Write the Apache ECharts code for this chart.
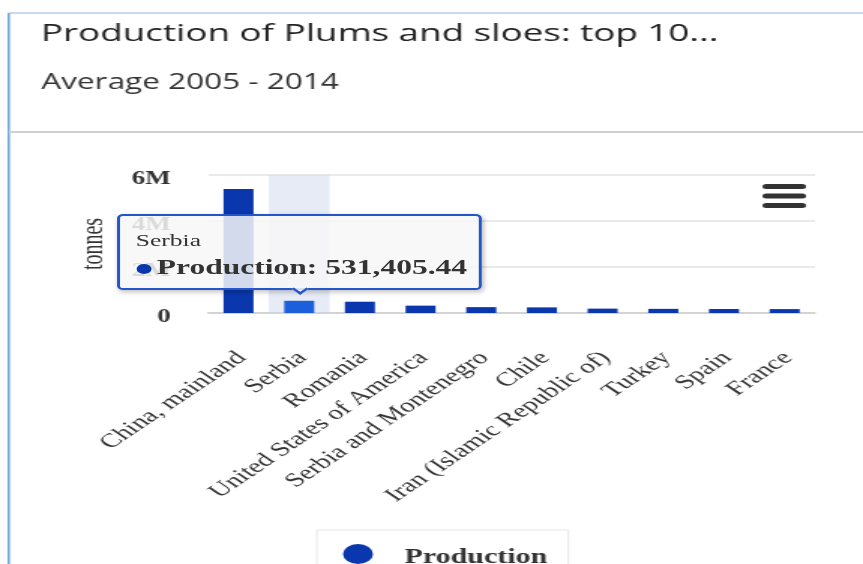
<!DOCTYPE html>
<html>
<head>
<meta charset="utf-8">
<script src="https://cdn.jsdelivr.net/npm/echarts@6/dist/echarts.min.js"></script>
<style>
    html, body { margin: 0; padding: 0; background: #fff; overflow: hidden; }
    /* the reference is stretched sideways, so draw narrow and stretch */
    #chart { width: 575px; height: 564px; transform: scaleX(1.5009); transform-origin: 0 0; }
</style>
</head>
<body>
<div id="chart"></div>
<script>
var categories = ['China, mainland', 'Serbia', 'Romania', 'United States of America',
    'Serbia and Montenegro', 'Chile', 'Iran (Islamic Republic of)', 'Turkey', 'Spain', 'France'];
var production = [5390000, 531405.44, 490000, 320000, 255000, 245000, 190000, 180000, 175000, 170000];
var yTickLabels = ['0', '2M', '4M', '6M'];

var serif = '"Liberation Serif", "Times New Roman", serif';
var barColor = '#0a37ad';

var chart = echarts.init(document.getElementById('chart'));

function fmt(v) {
    return v.toLocaleString('en-US', {minimumFractionDigits: 2, maximumFractionDigits: 2});
}

var option = {
    animation: false,
    title: [
        {
            text: 'Production of Plums and sloes: top 10...',
            left: 22.3, top: 14,
            textStyle: {fontFamily: 'Open Sans', fontSize: 24.5, fontWeight: 'normal', color: '#222', lineHeight: 30}
        },
        {
            text: 'Average 2005 - 2014',
            left: 22.5, top: 65,
            textStyle: {fontFamily: 'Open Sans', fontSize: 21, fontWeight: 'normal', color: '#333', lineHeight: 26}
        }
    ],
    graphic: [
        {type: 'line', shape: {x1: 5.8, y1: 13, x2: 575, y2: 13}, style: {stroke: '#8db4e2', lineWidth: 1}},
        {type: 'line', shape: {x1: 5.8, y1: 13, x2: 5.8, y2: 564}, style: {stroke: '#5b9bd5', lineWidth: 1.4}},
        {type: 'line', shape: {x1: 5.8, y1: 132, x2: 575, y2: 132}, style: {stroke: '#cfcfcf', lineWidth: 2}},
        {type: 'rect', shape: {x: 508, y: 184, width: 29, height: 5, r: 2.5}, style: {fill: '#333'}},
        {type: 'rect', shape: {x: 508, y: 193.5, width: 29, height: 5, r: 2.5}, style: {fill: '#333'}},
        {type: 'rect', shape: {x: 508, y: 203, width: 29, height: 5, r: 2.5}, style: {fill: '#333'}}
    ],
    legend: {
        data: ['Production'],
        left: 211, top: 530,
        padding: [14, 14, 14, 17.5],
        borderColor: '#e6e6e6', borderWidth: 1,
        icon: 'circle',
        itemWidth: 20, itemHeight: 20,
        formatter: '{t|{name}}',
        textStyle: {
            rich: {
                t: {fontFamily: serif, fontSize: 20, fontWeight: 'bold', color: '#333', padding: [7, 0, 0, 16]}
            }
        }
    },
    tooltip: {
        trigger: 'item',
        triggerOn: 'none',
        alwaysShowContent: true,
        position: 'top',
        backgroundColor: 'rgba(247,247,247,0.85)',
        borderColor: '#2356c8',
        borderWidth: 2,
        padding: [12, 8, 8, 10.5],
        extraCssText: 'border-radius:4px;box-shadow:1px 2px 4px rgba(0,0,0,0.25);',
        formatter: function (p) {
            return '<div style="font-family:' + serif.replace(/"/g, "'") + ';color:#333;">' +
                '<div style="font-size:17px;line-height:26px;">' + p.name + '</div>' +
                '<div style="font-size:21px;line-height:26px;white-space:nowrap;font-weight:bold;">' +
                '<span style="display:inline-block;width:10px;height:10px;border-radius:5px;background:' + barColor +
                ';margin-right:4px;vertical-align:middle;"></span>' +
                p.seriesName + ': ' + fmt(p.value) + '</div></div>';
        }
    },
    grid: {left: 138.7, right: 32, top: 175, bottom: 251},
    xAxis: {
        type: 'category',
        data: categories,
        axisLine: {lineStyle: {color: '#ccc', width: 1.5}},
        axisTick: {length: 11, lineStyle: {color: '#ccc', width: 1.5}},
        axisLabel: {
            rotate: 45, margin: 30, interval: 0,
            verticalAlign: 'top',
            padding: [0, 7, 0, 0],
            fontFamily: serif, fontSize: 19.5, color: '#333'
        },
        axisPointer: {
            show: true, type: 'shadow', value: 1, status: 'show', triggerTooltip: false,
            z: 1,
            label: {show: false},
            shadowStyle: {color: 'rgba(200,210,235,0.45)'}
        }
    },
    yAxis: {
        type: 'value',
        min: 0, max: 6000000, interval: 2000000,
        name: 'tonnes',
        nameLocation: 'middle',
        nameGap: 66,
        nameTextStyle: {fontFamily: serif, fontSize: 20, color: '#333'},
        axisLine: {show: false},
        axisTick: {show: false},
        splitLine: {lineStyle: {color: '#e3e3e3', width: 1.5}},
        axisLabel: {
            margin: 25,
            verticalAlign: 'top',
            lineHeight: 8,
            fontFamily: serif, fontSize: 18, fontWeight: 'bold', color: '#333',
            formatter: function (v) { return yTickLabels[Math.round(v / 2000000)]; }
        }
    },
    series: [{
        name: 'Production',
        type: 'bar',
        data: production,
        barWidth: 20,
        z: 3,
        itemStyle: {color: barColor},
        emphasis: {itemStyle: {color: '#1c5fdc'}}
    }]
};

chart.setOption(option);
chart.dispatchAction({type: 'highlight', seriesIndex: 0, dataIndex: 1});
chart.dispatchAction({type: 'showTip', seriesIndex: 0, dataIndex: 1});
</script>
</body>
</html>
